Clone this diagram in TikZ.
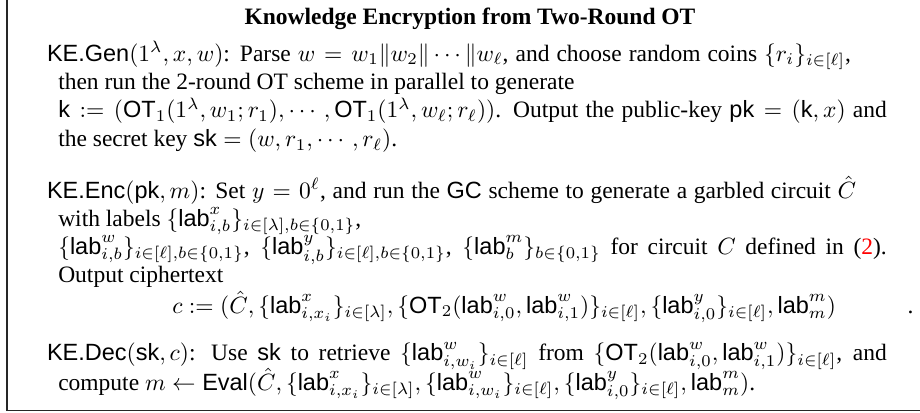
\documentclass[tikz,border=0pt]{standalone}
\usepackage[no-math]{fontspec}
\setmainfont{Liberation Serif}
\setsansfont{Liberation Sans}
\usepackage{amsmath}
\usepackage{xcolor}
\newcommand{\sfx}[1]{\textsf{#1}}
\newcommand{\fullline}[1]{\hbox to 352.6pt{#1}}
\begin{document}
\begin{tikzpicture}[x=1pt,y=1pt,
  txt/.style={anchor=base west, inner sep=0pt, outer sep=0pt},
  frameline/.style={line width=0.6pt, draw=black!85}]
\useasboundingbox (0,-175.7) rectangle (391.5,0);
\coordinate (tl) at (2.9,0);
\coordinate (bl) at (2.9,-174.6);
\coordinate (br) at (391.5,-174.6);
\draw[frameline] (tl) -- (bl) -- (br);
\node[anchor=base, inner sep=0pt] (title) at (200,-10.6) {\textbf{Knowledge Encryption from Two-Round OT}};
% KE.Gen
\node[txt] (g1) at (20,-26) {\hbox to 342.1pt{\sfx{KE.Gen}$(1^\lambda, x, w)$: Parse $w = w_1\|w_2\|\cdots\|w_\ell$, and choose random coins $\{r_i\}_{i\in[\ell]}$,}};
\node[txt] (g2) at (24.8,-38.3) {then run the 2-round OT scheme in parallel to generate};
\node[txt] (g3) at (24.8,-50.2) {\fullline{$\sfx{k} := (\sfx{OT}_1(1^\lambda, w_1; r_1), \cdots, \sfx{OT}_1(1^\lambda, w_\ell; r_\ell))$. Output the public-key $\sfx{pk} = (\sfx{k}, x)$ and}};
\node[txt] (g4) at (24.8,-62.5) {the secret key $\sfx{sk} = (w, r_1, \cdots, r_\ell)$.};
% KE.Enc
\node[txt] (e1) at (20,-84.3) {\hbox to 344.3pt{\sfx{KE.Enc}$(\sfx{pk}, m)$: Set $y = 0^\ell$, and run the \sfx{GC} scheme to generate a garbled circuit $\hat{C}$}};
\node[txt] (e2) at (24.8,-96.2) {with labels $\{\sfx{lab}^x_{i,b}\}_{i\in[\lambda],b\in\{0,1\}}$,};
\node[txt] (e3) at (24.8,-108.1) {\fullline{$\{\sfx{lab}^w_{i,b}\}_{i\in[\ell],b\in\{0,1\}}$, $\{\sfx{lab}^y_{i,b}\}_{i\in[\ell],b\in\{0,1\}}$, $\{\sfx{lab}^m_b\}_{b\in\{0,1\}}$ for circuit $C$ defined in (\textcolor{red}{2}).}};
\node[txt] (e4) at (24.8,-120.4) {Output ciphertext};
\node[txt] (e5) at (73.3,-133.2) {$c := (\hat{C}, \{\sfx{lab}^x_{i,x_i}\}_{i\in[\lambda]}, \{\sfx{OT}_2(\sfx{lab}^w_{i,0}, \sfx{lab}^w_{i,1})\}_{i\in[\ell]}, \{\sfx{lab}^y_{i,0}\}_{i\in[\ell]}, \sfx{lab}^m_m)$};
\node[txt] (e6) at (386.2,-133.2) {.};
% KE.Dec
\node[txt] (d1) at (20,-153.6) {\hbox to 357.4pt{\sfx{KE.Dec}$(\sfx{sk}, c)$: Use \sfx{sk} to retrieve $\{\sfx{lab}^w_{i,w_i}\}_{i\in[\ell]}$ from $\{\sfx{OT}_2(\sfx{lab}^w_{i,0}, \sfx{lab}^w_{i,1})\}_{i\in[\ell]}$, and}};
\node[txt] (d2) at (24.8,-166) {compute $m \leftarrow \sfx{Eval}(\hat{C}, \{\sfx{lab}^x_{i,x_i}\}_{i\in[\lambda]}, \{\sfx{lab}^w_{i,w_i}\}_{i\in[\ell]}, \{\sfx{lab}^y_{i,0}\}_{i\in[\ell]}, \sfx{lab}^m_m)$.};
\end{tikzpicture}
\end{document}
